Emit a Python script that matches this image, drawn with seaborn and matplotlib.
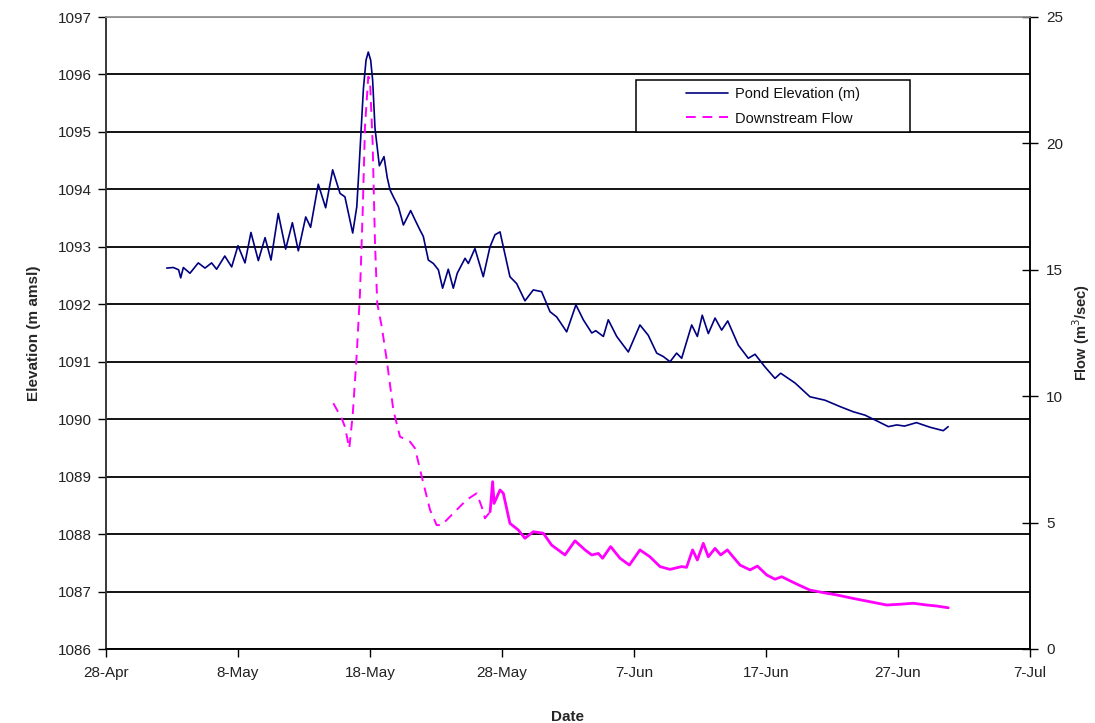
import matplotlib
matplotlib.use("Agg")
import matplotlib.pyplot as plt
import matplotlib.dates as mdates
from matplotlib.patches import Rectangle
import seaborn as sns
import pandas as pd

# ---------------- data ----------------
start_date = "2008-04-28"          # x axis origin (28-Apr)
tick_step_days = 10
n_ticks = 8

# Pond elevation (m amsl); days since 28-Apr
pond_day = [4.6, 5.1, 5.5, 5.66, 5.86, 6.36, 6.99, 7.5, 8.0, 8.38, 9.0, 9.52, 10.0, 10.53,
            10.98, 11.54, 12.05, 12.5, 13.05, 13.61, 14.12, 14.57, 15.13, 15.5, 16.08, 16.64,
            17.17, 17.73, 18.1, 18.69, 19.0, 19.2, 19.5, 19.7, 19.87, 20.05, 20.2, 20.38, 20.71,
            21.06, 21.31, 21.52, 21.77, 22.15, 22.53, 23.08, 23.41, 23.79, 24.04, 24.42, 24.8,
            25.18, 25.5, 25.93, 26.31, 26.61, 27.2, 27.45, 27.95, 28.58, 29.09, 29.47, 29.85,
            30.6, 31.11, 31.74, 32.37, 33.0, 33.64, 34.14, 34.9, 35.6, 36.16, 36.8, 37.1, 37.68,
            38.05, 38.69, 39.57, 40.45, 41.08, 41.72, 42.22, 42.73, 43.23, 43.61, 44.37, 44.8,
            45.17, 45.63, 46.14, 46.64, 47.1, 47.9, 48.66, 49.17, 49.92, 50.68, 51.11, 52.2,
            53.33, 54.47, 55.6, 56.6, 57.5, 58.4, 59.27, 59.9, 60.5, 61.4, 62.42, 63.43, 63.8]
pond_elev = [1092.63, 1092.64, 1092.60, 1092.46, 1092.64, 1092.54, 1092.72, 1092.63, 1092.72,
             1092.61, 1092.84, 1092.65, 1093.02, 1092.72, 1093.25, 1092.76, 1093.16, 1092.77,
             1093.58, 1092.96, 1093.42, 1092.93, 1093.52, 1093.34, 1094.09, 1093.68, 1094.34,
             1093.93, 1093.87, 1093.24, 1093.70, 1094.50, 1095.75, 1096.25, 1096.39, 1096.25,
             1095.90, 1095.06, 1094.41, 1094.57, 1094.20, 1093.99, 1093.87, 1093.70, 1093.38,
             1093.63, 1093.47, 1093.29, 1093.18, 1092.77, 1092.71, 1092.60, 1092.28, 1092.61,
             1092.28, 1092.54, 1092.80, 1092.71, 1092.97, 1092.48, 1093.00, 1093.21, 1093.26,
             1092.48, 1092.36, 1092.06, 1092.25, 1092.22, 1091.87, 1091.78, 1091.52, 1091.99,
             1091.73, 1091.50, 1091.54, 1091.44, 1091.73, 1091.44, 1091.17, 1091.64, 1091.46,
             1091.15, 1091.09, 1091.00, 1091.15, 1091.06, 1091.64, 1091.44, 1091.81, 1091.49,
             1091.76, 1091.55, 1091.71, 1091.29, 1091.06, 1091.13, 1090.91, 1090.71, 1090.80,
             1090.63, 1090.39, 1090.33, 1090.22, 1090.13, 1090.07, 1089.97, 1089.87, 1089.90,
             1089.88, 1089.94, 1089.86, 1089.80, 1089.87]

# Downstream flow (m3/sec); days since 28-Apr
flow_day = [17.22, 17.85, 18.1, 18.43, 18.69, 19.0, 19.24, 19.45, 19.62, 19.87, 20.0, 20.2,
            20.38, 20.55, 20.89, 21.27, 21.77, 22.27, 23.03, 23.41, 23.92, 24.55, 25.05, 25.43,
            26.31, 27.32, 28.08, 28.46, 28.71, 29.1, 29.29, 29.4, 29.85, 30.1, 30.6, 31.23,
            31.74, 32.37, 33.13, 33.76, 34.77, 35.53, 36.29, 36.8, 37.3, 37.62, 38.23, 38.94,
            39.65, 40.45, 41.2, 41.97, 42.73, 43.61, 43.98, 44.44, 44.8, 45.25, 45.63, 46.14,
            46.57, 47.07, 48.03, 48.79, 49.35, 50.05, 50.68, 51.19, 52.32, 53.33, 54.34, 55.35,
            56.61, 57.88, 59.14, 60.15, 61.16, 62.17, 62.93, 63.81]
flow_val = [9.72, 9.13, 8.79, 7.94, 9.26, 11.7, 14.07, 17.37, 20.66, 22.64, 22.5, 20.0,
            16.05, 13.67, 12.75, 11.43, 9.45, 8.4, 8.2, 7.94, 6.82, 5.5, 4.9, 4.9,
            5.37, 5.9, 6.16, 5.63, 5.17, 5.43, 6.62, 5.76, 6.29, 6.16, 4.97, 4.71,
            4.38, 4.64, 4.58, 4.11, 3.72, 4.28, 3.92, 3.72, 3.78, 3.59, 4.05, 3.59,
            3.32, 3.92, 3.65, 3.26, 3.15, 3.26, 3.23, 3.92, 3.52, 4.18, 3.65, 3.98,
            3.72, 3.92, 3.32, 3.13, 3.28, 2.93, 2.76, 2.86, 2.57, 2.33, 2.23, 2.14,
            2.0, 1.87, 1.74, 1.77, 1.81, 1.74, 1.70, 1.63]
flow_dense_from_day = 29.1   # dense logger record starts here (looks solid)

pond_label = "Pond Elevation (m)"
flow_label = "Downstream Flow"
left_ticks = list(range(1086, 1098))
right_ticks = [0, 5, 10, 15, 20, 25]

# ---------------- frames ----------------
t0 = pd.Timestamp(start_date)
pond = pd.DataFrame({"date": t0 + pd.to_timedelta(pond_day, unit="D"), "elev": pond_elev})
flow = pd.DataFrame({"day": flow_day, "flow": flow_val})
flow["date"] = t0 + pd.to_timedelta(flow["day"], unit="D")
flow_sparse = flow[flow["day"] <= flow_dense_from_day]
flow_dense = flow[flow["day"] >= flow_dense_from_day]

# ---------------- style ----------------
sns.set_theme(style="white")
plt.rcParams['font.family'] = ['Liberation Sans', 'DejaVu Sans']

W, H = 1095, 723
fig = plt.figure(figsize=(W / 100, H / 100), dpi=100)
ax = fig.add_axes([106 / W, 1 - 649 / H, 924 / W, 632 / H])
ax2 = ax.twinx()

NAVY = "#000080"
MAG = "#FF00FF"

sns.lineplot(data=pond, x="date", y="elev", ax=ax, color=NAVY, lw=1.2,
             estimator=None, sort=False, label=pond_label, legend=False,
             solid_joinstyle="round")
sns.lineplot(data=flow_sparse, x="date", y="flow", ax=ax2, color=MAG, lw=1.4,
             estimator=None, sort=False, dashes=False, label=flow_label, legend=False)
ax2.lines[0].set_dashes([5, 3.5])
sns.lineplot(data=flow_dense, x="date", y="flow", ax=ax2, color=MAG, lw=2.0,
             estimator=None, sort=False, legend=False, solid_joinstyle="round")

# axes limits / ticks
xticks = pd.date_range(t0, periods=n_ticks, freq=f"{tick_step_days}D")
ax.set_xlim(xticks[0], xticks[-1])
ax.set_xticks(xticks)
ax.xaxis.set_major_formatter(mdates.DateFormatter("%-d-%b"))
ax.set_ylim(left_ticks[0], left_ticks[-1])
ax.set_yticks(left_ticks)
ax2.set_ylim(right_ticks[0], right_ticks[-1])
ax2.set_yticks(right_ticks)

ax.yaxis.grid(True, color="black", lw=1.3)
ax.xaxis.grid(False)
ax2.grid(False)

tick_col = "#222222"
ax.tick_params(axis="y", direction="out", length=6, width=1, labelsize=11,
               colors="black", labelcolor=tick_col, pad=4, left=True)
ax.tick_params(axis="x", direction="out", length=6, width=1, labelsize=11,
               colors="black", labelcolor=tick_col, pad=6, bottom=True)
ax2.tick_params(axis="y", direction="inout", length=11, width=1, labelsize=11,
                colors="black", labelcolor=tick_col, pad=6, right=True)

for a in (ax, ax2):
    a.spines["top"].set_color("#999999")
    a.spines["left"].set_color("#333333")
    a.spines["bottom"].set_color("black")
    a.spines["right"].set_color("black")
    for s in a.spines.values():
        s.set_linewidth(1.1)

ax.set_xlabel("Date", fontsize=11, fontweight="bold", labelpad=22)
ax.set_ylabel("Elevation (m amsl)", fontsize=11, fontweight="bold", labelpad=12)
ax2.set_ylabel("Flow (m$^3$/sec)", fontsize=10.5, fontweight="bold", labelpad=5)

# legend box
ax2.add_patch(Rectangle((0.574, 0.818), 0.296, 0.082, transform=ax2.transAxes,
                        facecolor="white", edgecolor="black", lw=1.1, zorder=6))
handles = [ax.lines[0], ax2.lines[0]]
leg = ax2.legend(handles, [pond_label, flow_label], loc="center",
                 bbox_to_anchor=(0.722, 0.859), frameon=False, fontsize=10.5,
                 handlelength=2.9, handletextpad=0.45, labelspacing=0.75)
leg.set_zorder(7)
for t in leg.get_texts():
    t.set_color("#111111")

fig.savefig("out.png", dpi=100)
